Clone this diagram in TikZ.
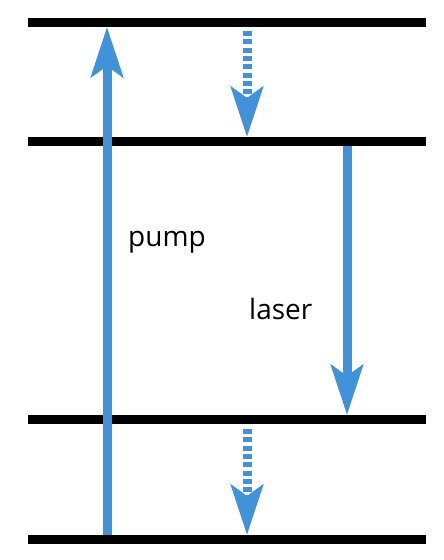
\documentclass[tikz,border=0pt]{standalone}
\usepackage{fontspec}
\setmainfont{Open Sans}
\usetikzlibrary{arrows.meta}
\definecolor{LaserBlue}{RGB}{66,146,217}

\begin{document}
\begin{tikzpicture}[x=1pt, y=-1pt,
    level/.style={line width=8.5pt, black},
    trans/.style={line width=9pt, LaserBlue, -{Stealth[length=50pt, width=32pt, inset=11pt]}},
    decay/.style={trans, dash pattern=on 5pt off 3.3pt},
    lbl/.style={font=\fontsize{28}{33}\selectfont, anchor=base west, inner sep=0pt}]
    \useasboundingbox (0,0) rectangle (444,560);

    % Energy levels
    \foreach \n/\y in {3/22.5, 2/141.5, 1/419.5, 0/539.5} {
        \coordinate (w\n) at (28,\y);
        \coordinate (e\n) at (426,\y);
        \draw [level] (w\n) -- (e\n);
    }

    % Ends of the transitions
    \coordinate (pumpA) at (107,535);
    \coordinate (pumpB) at (107,27);
    \coordinate (upA) at (247,31);
    \coordinate (upB) at (247,137);
    \coordinate (lasA) at (347,146);
    \coordinate (lasB) at (347,415);
    \coordinate (dnA) at (247,429);
    \coordinate (dnB) at (247,535);

    % Transitions
    \draw [trans] (pumpA) -- (pumpB);
    \draw [decay] (upA) -- (upB);
    \draw [trans] (lasA) -- (lasB);
    \draw [decay] (dnA) -- (dnB);

    % Labels
    \node [lbl] (pump) at (128,246) {pump};
    \node [lbl] (laser) at (249,319) {laser};
\end{tikzpicture}
\end{document}
